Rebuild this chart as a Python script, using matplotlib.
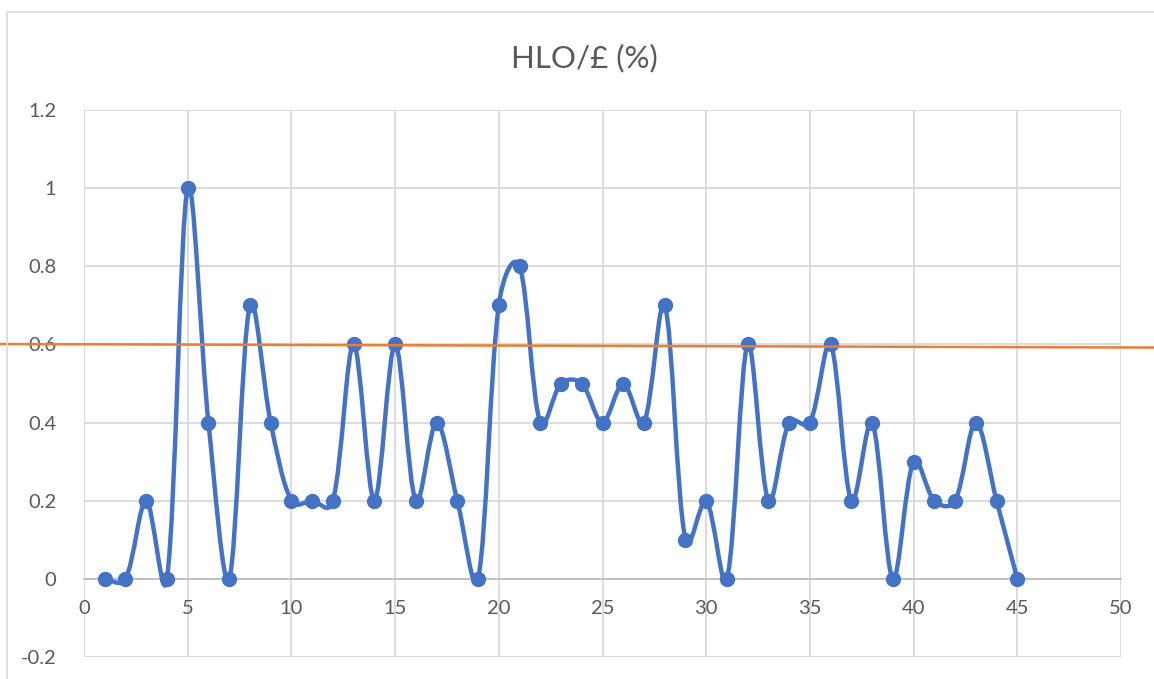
import numpy as np
import matplotlib
matplotlib.use("Agg")
import matplotlib.pyplot as plt
from matplotlib.path import Path
from matplotlib.patches import PathPatch, Rectangle
from matplotlib.lines import Line2D

plt.rcParams['font.family'] = ['Lato', 'DejaVu Sans']

# data
x = [1, 2, 3, 4, 5, 6, 7, 8, 9, 10, 11, 12, 13, 14, 15, 16, 17, 18, 19, 20,
     21, 22, 23, 24, 25, 26, 27, 28, 29, 30, 31, 32, 33, 34, 35, 36, 37, 38,
     39, 40, 41, 42, 43, 44, 45]
y = [0, 0, 0.2, 0, 1, 0.4, 0, 0.7, 0.4, 0.2, 0.2, 0.2, 0.6, 0.2, 0.6, 0.2,
     0.4, 0.2, 0, 0.7, 0.8, 0.4, 0.5, 0.5, 0.4, 0.5, 0.4, 0.7, 0.1, 0.2, 0,
     0.6, 0.2, 0.4, 0.4, 0.6, 0.2, 0.4, 0, 0.3, 0.2, 0.2, 0.4, 0.2, 0]
ref_x = [-4.05, 51.6]
ref_y = [0.601, 0.592]

xticks = [0, 5, 10, 15, 20, 25, 30, 35, 40, 45, 50]
yticks = [-0.2, 0, 0.2, 0.4, 0.6, 0.8, 1, 1.2]
ytick_labels = ['-0.2', '0', '0.2', '0.4', '0.6', '0.8', '1', '1.2']

BLUE = '#4472C4'
ORANGE = '#ED7D31'
GRID = '#D9D9D9'
TEXT = '#595959'


def smooth_path(xs, ys, sx=20.74, sy=391.0):
    # excel-like smoothed line: cubic bezier through every point,
    # tangents partly weighted by segment lengths measured on screen
    p = np.column_stack([xs, ys]).astype(float)
    n = len(p)
    scale = np.array([sx, sy])

    def d(a, b):
        return np.hypot(*((a - b) * scale))

    def tangent(i):
        a = p[i - 1] if i > 0 else p[i]
        b = p[i + 1] if i + 1 < n else p[i]
        return b - a, d(p[i], a), d(b, p[i])

    verts = [p[0]]
    codes = [Path.MOVETO]
    for i in range(n - 1):
        t0, da0, db0 = tangent(i)
        t1, da1, db1 = tangent(i + 1)
        w0 = db0 / (da0 + db0) if da0 + db0 > 0 else 0.5
        w1 = da1 / (da1 + db1) if da1 + db1 > 0 else 0.5
        w0 = 0.5 * w0 + 0.25
        w1 = 0.5 * w1 + 0.25
        c1 = p[i] + t0 * w0 / 3.0
        c2 = p[i + 1] - t1 * w1 / 3.0
        verts += [c1, c2, p[i + 1]]
        codes += [Path.CURVE4] * 3
    return Path(verts, codes)


fig = plt.figure(figsize=(11.54, 6.79), dpi=100)
fig.patches.append(Rectangle((7 / 1154, -0.1), 1.2, (679 - 12) / 679 + 0.1,
                             transform=fig.transFigure, fill=False,
                             edgecolor='#D9D9D9', lw=1.2))

ax = fig.add_axes([84 / 1154, (679 - 657) / 679, (1121 - 84) / 1154, (657 - 110) / 679])
ax.set_xlim(0, 50)
ax.set_ylim(-0.2, 1.2)
ax.set_xticks(xticks)
ax.set_yticks(yticks)
ax.set_yticklabels(ytick_labels)
ax.grid(True, color=GRID, lw=1.3)
ax.set_axisbelow(True)
for s in ['top', 'right', 'left']:
    ax.spines[s].set_visible(False)
ax.spines['bottom'].set_position(('data', 0))
ax.spines['bottom'].set_color('#BFBFBF')
ax.spines['bottom'].set_linewidth(1.3)
ax.tick_params(axis='both', length=0, labelsize=14.5, labelcolor=TEXT)
ax.tick_params(axis='x', pad=15)
ax.tick_params(axis='y', pad=20)

ax.add_patch(PathPatch(smooth_path(x, y), fill=False, edgecolor=BLUE, lw=3.2,
                       capstyle='round', joinstyle='round', zorder=3))
ax.plot(x, y, 'o', color=BLUE, ms=10, zorder=4)

ax.add_line(Line2D(ref_x, ref_y, color=ORANGE, lw=1.8, clip_on=False, zorder=5))

fig.text(584 / 1154, 1 - 58 / 679, 'HLO/£ (%)', ha='center', va='center',
         fontsize=22.5, color=TEXT)

fig.savefig('out.png', dpi=100)
